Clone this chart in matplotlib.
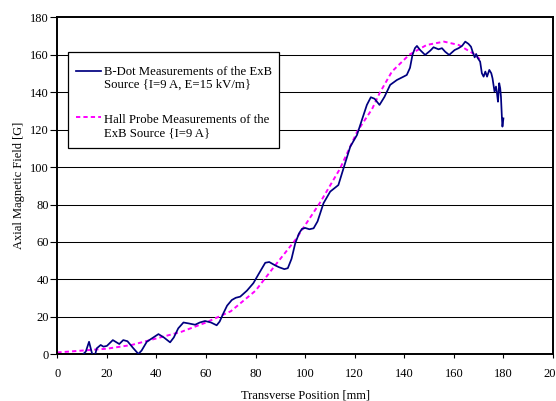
import matplotlib
matplotlib.use("Agg")
import matplotlib.pyplot as plt
from matplotlib.patches import Rectangle
from matplotlib.lines import Line2D

plt.rcParams['font.family'] = ['Liberation Serif', 'DejaVu Serif']
plt.rcParams['font.size'] = 9

# B-Dot measurements (Transverse position [mm], Axial field [G])
bdot_x = [10.0, 11.5, 12.8, 13.9, 14.5, 15.2, 15.9, 17.5, 18.6, 20.0, 22.4, 25.0, 26.6, 28.3,
          30.5, 32.7, 34.0, 36.1, 38.5, 40.8, 43.0, 45.5, 47.0, 48.8, 50.9, 53.0, 55.6, 57.5,
          59.6, 62.0, 64.3, 65.5, 67.0, 68.5, 70.4, 72.0, 73.8, 76.5, 79.1, 81.5, 83.9, 85.5,
          87.9, 89.5, 91.6, 93.0, 94.5, 96.0, 97.5, 98.7, 100.0, 101.7, 103.4, 105.0, 107.4,
          110.1, 113.4, 116.1, 118.2, 120.9, 122.9, 124.9, 126.5, 128.0, 130.0, 132.0, 134.3,
          137.0, 139.7, 141.0, 142.3, 143.3, 144.3, 145.1, 146.4, 148.4, 150.5, 151.8, 153.8,
          155.2, 156.5, 158.1, 160.3, 161.9, 163.3, 164.6, 165.9, 166.9, 167.7, 168.4, 169.0,
          169.7, 170.6, 171.3, 172.0, 172.7, 173.4, 174.3, 175.1, 175.6, 176.4, 177.0, 177.4,
          177.8, 178.3, 178.7, 179.0, 179.4, 179.6, 180.0]
bdot_y = [-0.5, 1.5, 6.7, 1.0, -1.5, -0.5, 3.2, 5.0, 4.1, 4.5, 7.6, 5.5, 7.6, 7.0,
          3.5, 0.2, 2.0, 6.7, 8.8, 10.8, 9.0, 6.4, 9.0, 13.9, 17.0, 16.5, 15.8, 17.0,
          17.8, 17.0, 15.5, 17.5, 21.9, 26.0, 29.0, 30.2, 30.8, 34.0, 38.0, 43.5, 48.9, 49.3,
          47.5, 46.5, 45.5, 46.0, 51.0, 59.3, 64.5, 67.0, 67.5, 66.8, 67.3, 71.0, 80.7,
          86.9, 90.4, 102.0, 110.9, 117.1, 125.2, 133.2, 137.3, 136.5, 133.2, 137.5, 143.9,
          146.5, 148.3, 149.2, 153.0, 159.9, 163.5, 164.7, 162.5, 159.9, 162.2, 164.0, 162.9,
          163.5, 161.6, 159.9, 162.5, 163.5, 164.7, 167.0, 165.8, 164.3, 161.1, 158.6, 160.4,
          158.1, 156.3, 150.1, 148.3, 151.0, 148.3, 151.9, 150.1, 147.4, 140.3, 143.0, 139.4,
          134.9, 144.8, 142.1, 137.6, 126.0, 121.6, 126.0]

# Hall probe measurements
hall_x = [0, 10, 20, 30, 40, 50, 60, 70, 80, 88, 96, 100, 106, 114, 121, 127, 130, 135,
          142, 149, 156, 162, 168, 171]
hall_y = [1.0, 2.0, 3.0, 5.0, 8.5, 12.0, 17.0, 23.0, 34.0, 47.7, 61.0, 69.0, 81.0, 99.0,
          119.0, 131.0, 139.4, 151.0, 160.0, 165.2, 167.0, 165.2, 160.5, 157.0]

x_ticks = list(range(0, 201, 20))
y_ticks = list(range(0, 181, 20))

legend_bdot = ["B-Dot Measurements of the ExB", "Source {I=9 A, E=15 kV/m}"]
legend_hall = ["Hall Probe Measurements of the", "ExB Source {I=9 A}"]
xlabel = "Transverse Position [mm]"
ylabel = "Axial Magnetic Field [G]"

navy = "#000080"
magenta = "#FF00FF"

fig = plt.figure(figsize=(5.56, 4.01), dpi=100)
ax = fig.add_axes([0.1031, 0.1164, 0.8915, 0.8405])

for yv in y_ticks[1:-1]:
    ax.axhline(yv, color="black", lw=0.75, zorder=1)

ax.plot(hall_x, hall_y, color=magenta, lw=1.4, dashes=(2.2, 1.6), zorder=2)
ax.plot(bdot_x, bdot_y, color=navy, lw=1.25, zorder=3)

ax.set_xlim(0, 200)
ax.set_ylim(0, 180)
ax.set_xticks(x_ticks)
ax.set_yticks(y_ticks)
ax.tick_params(axis='x', direction='out', length=3, width=0.8, pad=7, labelsize=9)
ax.tick_params(axis='y', direction='out', length=5, width=0.8, pad=1, labelsize=9)
for s in ax.spines.values():
    s.set_linewidth(1.4)
    s.set_color("black")

ax.set_xlabel(xlabel, fontsize=9, labelpad=7)
ax.set_ylabel(ylabel, fontsize=9, labelpad=4)

# legend box (manual, to keep handles aligned with first text line)
tr = ax.transAxes
ax.add_patch(Rectangle((0.0216, 0.611), 0.426, 0.287, transform=tr, facecolor="white",
                       edgecolor="black", lw=0.9, zorder=5))
ax.add_line(Line2D([0.0377, 0.0876], [0.8415, 0.8415], transform=tr, color=navy, lw=1.25, zorder=6))
ax.add_line(Line2D([0.0377, 0.0876], [0.7032, 0.7032], transform=tr, color=magenta, lw=1.4,
                   dashes=(2.2, 1.6), zorder=6))
for txt, yy in zip(legend_bdot + legend_hall, [0.8288, 0.790, 0.6872, 0.6478]):
    ax.text(0.0943, yy, txt, transform=tr, ha="left", va="baseline", fontsize=9.2, zorder=7)

fig.savefig("out.png", dpi=100)
